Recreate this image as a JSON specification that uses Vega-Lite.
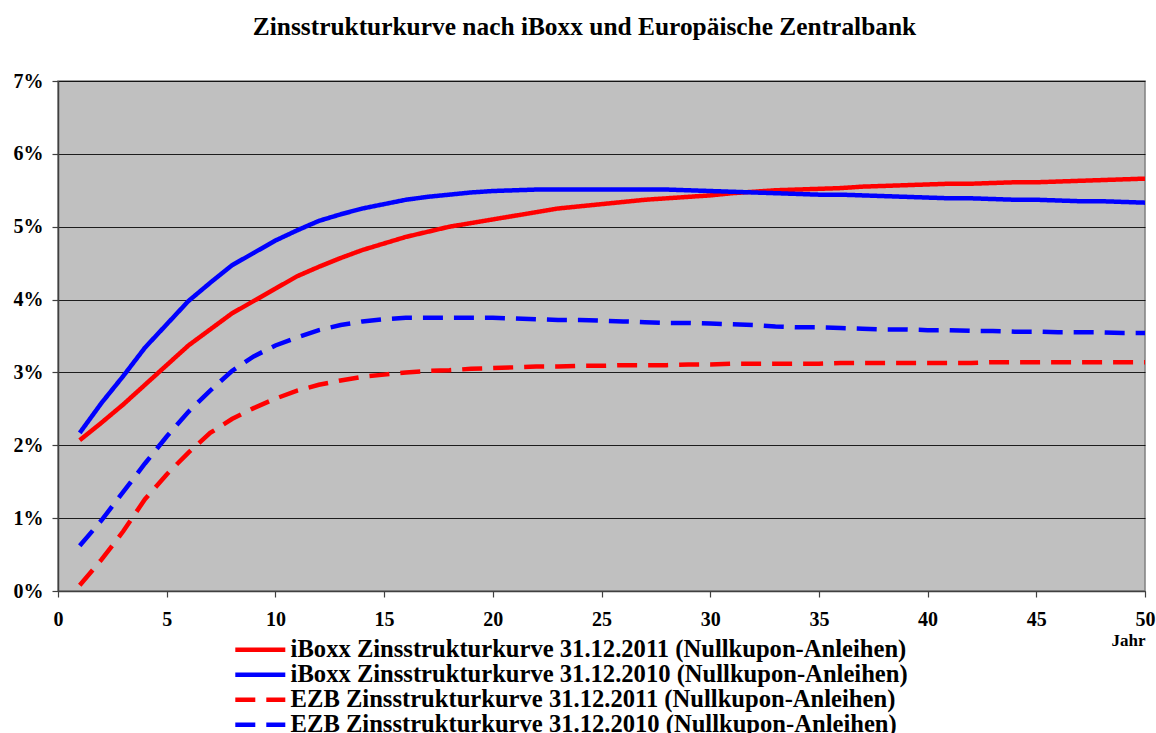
{
  "$schema": "https://vega.github.io/schema/vega-lite/v6.json",
  "width": 1087,
  "height": 510,
  "autosize": {"type": "none"},
  "padding": {"left": 58, "top": 81, "right": 11, "bottom": 142},
  "background": "white",
  "title": {
    "text": "Zinsstrukturkurve nach iBoxx und Europäische Zentralbank",
    "font": "Liberation Serif",
    "fontSize": 25.4,
    "fontWeight": "bold",
    "color": "black",
    "anchor": "middle",
    "dx": -17,
    "offset": 31
  },
  "config": {
    "view": {"fill": "#C0C0C0", "stroke": "#808080", "strokeWidth": 1.5},
    "axis": {
      "labelFont": "Liberation Serif",
      "labelFontWeight": "bold",
      "labelFontSize": 20,
      "labelColor": "black",
      "titleFont": "Liberation Serif",
      "titleFontWeight": "bold",
      "titleFontSize": 17,
      "titleColor": "black",
      "domainColor": "#404040",
      "domainWidth": 1.5,
      "tickColor": "#404040",
      "tickWidth": 1.2
    }
  },
  "data": {
    "values": [
      {"jahr": 1, "i2011": 2.07, "i2010": 2.17, "e2011": 0.08, "e2010": 0.62},
      {"jahr": 2, "i2011": 2.31, "i2010": 2.58, "e2011": 0.43, "e2010": 0.97},
      {"jahr": 3, "i2011": 2.56, "i2010": 2.95, "e2011": 0.82, "e2010": 1.36},
      {"jahr": 4, "i2011": 2.83, "i2010": 3.34, "e2011": 1.26, "e2010": 1.75},
      {"jahr": 5, "i2011": 3.10, "i2010": 3.66, "e2011": 1.60, "e2010": 2.12},
      {"jahr": 6, "i2011": 3.37, "i2010": 3.98, "e2011": 1.90, "e2010": 2.46},
      {"jahr": 7, "i2011": 3.59, "i2010": 4.23, "e2011": 2.17, "e2010": 2.75},
      {"jahr": 8, "i2011": 3.81, "i2010": 4.47, "e2011": 2.36, "e2010": 3.02},
      {"jahr": 9, "i2011": 3.98, "i2010": 4.64, "e2011": 2.51, "e2010": 3.22},
      {"jahr": 10, "i2011": 4.15, "i2010": 4.81, "e2011": 2.64, "e2010": 3.37},
      {"jahr": 11, "i2011": 4.32, "i2010": 4.95, "e2011": 2.75, "e2010": 3.48},
      {"jahr": 12, "i2011": 4.45, "i2010": 5.08, "e2011": 2.83, "e2010": 3.58},
      {"jahr": 13, "i2011": 4.57, "i2010": 5.17, "e2011": 2.89, "e2010": 3.65},
      {"jahr": 14, "i2011": 4.68, "i2010": 5.25, "e2011": 2.94, "e2010": 3.70},
      {"jahr": 15, "i2011": 4.77, "i2010": 5.31, "e2011": 2.97, "e2010": 3.73},
      {"jahr": 16, "i2011": 4.86, "i2010": 5.37, "e2011": 3.00, "e2010": 3.75},
      {"jahr": 17, "i2011": 4.93, "i2010": 5.41, "e2011": 3.02, "e2010": 3.75},
      {"jahr": 18, "i2011": 5.00, "i2010": 5.44, "e2011": 3.03, "e2010": 3.75},
      {"jahr": 19, "i2011": 5.05, "i2010": 5.47, "e2011": 3.05, "e2010": 3.75},
      {"jahr": 20, "i2011": 5.10, "i2010": 5.49, "e2011": 3.06, "e2010": 3.75},
      {"jahr": 21, "i2011": 5.15, "i2010": 5.50, "e2011": 3.07, "e2010": 3.74},
      {"jahr": 22, "i2011": 5.20, "i2010": 5.51, "e2011": 3.08, "e2010": 3.73},
      {"jahr": 23, "i2011": 5.25, "i2010": 5.51, "e2011": 3.08, "e2010": 3.72},
      {"jahr": 24, "i2011": 5.28, "i2010": 5.51, "e2011": 3.09, "e2010": 3.72},
      {"jahr": 25, "i2011": 5.31, "i2010": 5.51, "e2011": 3.09, "e2010": 3.71},
      {"jahr": 26, "i2011": 5.34, "i2010": 5.51, "e2011": 3.10, "e2010": 3.70},
      {"jahr": 27, "i2011": 5.37, "i2010": 5.51, "e2011": 3.10, "e2010": 3.69},
      {"jahr": 28, "i2011": 5.39, "i2010": 5.51, "e2011": 3.10, "e2010": 3.68},
      {"jahr": 29, "i2011": 5.41, "i2010": 5.50, "e2011": 3.11, "e2010": 3.68},
      {"jahr": 30, "i2011": 5.43, "i2010": 5.49, "e2011": 3.11, "e2010": 3.67},
      {"jahr": 31, "i2011": 5.46, "i2010": 5.48, "e2011": 3.12, "e2010": 3.66},
      {"jahr": 32, "i2011": 5.48, "i2010": 5.47, "e2011": 3.12, "e2010": 3.65},
      {"jahr": 33, "i2011": 5.50, "i2010": 5.46, "e2011": 3.12, "e2010": 3.63},
      {"jahr": 34, "i2011": 5.51, "i2010": 5.45, "e2011": 3.12, "e2010": 3.62},
      {"jahr": 35, "i2011": 5.52, "i2010": 5.44, "e2011": 3.12, "e2010": 3.62},
      {"jahr": 36, "i2011": 5.53, "i2010": 5.44, "e2011": 3.13, "e2010": 3.61},
      {"jahr": 37, "i2011": 5.55, "i2010": 5.43, "e2011": 3.13, "e2010": 3.60},
      {"jahr": 38, "i2011": 5.56, "i2010": 5.42, "e2011": 3.13, "e2010": 3.59},
      {"jahr": 39, "i2011": 5.57, "i2010": 5.41, "e2011": 3.13, "e2010": 3.59},
      {"jahr": 40, "i2011": 5.58, "i2010": 5.40, "e2011": 3.13, "e2010": 3.58},
      {"jahr": 41, "i2011": 5.59, "i2010": 5.39, "e2011": 3.13, "e2010": 3.58},
      {"jahr": 42, "i2011": 5.59, "i2010": 5.39, "e2011": 3.13, "e2010": 3.57},
      {"jahr": 43, "i2011": 5.60, "i2010": 5.38, "e2011": 3.14, "e2010": 3.57},
      {"jahr": 44, "i2011": 5.61, "i2010": 5.37, "e2011": 3.14, "e2010": 3.56},
      {"jahr": 45, "i2011": 5.61, "i2010": 5.37, "e2011": 3.14, "e2010": 3.56},
      {"jahr": 46, "i2011": 5.62, "i2010": 5.36, "e2011": 3.14, "e2010": 3.55},
      {"jahr": 47, "i2011": 5.63, "i2010": 5.35, "e2011": 3.14, "e2010": 3.55},
      {"jahr": 48, "i2011": 5.64, "i2010": 5.35, "e2011": 3.14, "e2010": 3.55},
      {"jahr": 49, "i2011": 5.65, "i2010": 5.34, "e2011": 3.14, "e2010": 3.54},
      {"jahr": 50, "i2011": 5.66, "i2010": 5.33, "e2011": 3.14, "e2010": 3.54}
    ]
  },
  "transform": [
    {"fold": ["i2011", "i2010", "e2011", "e2010"], "as": ["serie", "wert"]}
  ],
  "mark": {"type": "line", "clip": true},
  "encoding": {
    "x": {
      "field": "jahr",
      "type": "quantitative",
      "scale": {"domain": [0, 50], "nice": false, "zero": false},
      "axis": {
        "values": [0, 5, 10, 15, 20, 25, 30, 35, 40, 45, 50],
        "grid": false,
        "tickSize": 6,
        "labelPadding": 12,
        "labelFlush": false,
        "title": "Jahr",
        "titleAnchor": "end",
        "titleAlign": "right",
        "titleX": 1087,
        "titleY": 49,
        "titleBaseline": "middle"
      }
    },
    "y": {
      "field": "wert",
      "type": "quantitative",
      "scale": {"domain": [0, 7], "nice": false},
      "axis": {
        "values": [0, 1, 2, 3, 4, 5, 6, 7],
        "labelExpr": "datum.value + '%'",
        "grid": true,
        "gridColor": "#000000",
        "gridWidth": 1,
        "gridOpacity": 0.85,
        "tickSize": 6,
        "labelPadding": 9,
        "title": null
      }
    },
    "color": {
      "field": "serie",
      "type": "nominal",
      "scale": {
        "domain": ["i2011", "i2010", "e2011", "e2010"],
        "range": ["#FF0000", "#0000FF", "#FF0000", "#0000FF"]
      },
      "legend": {
        "title": null,
        "orient": "none",
        "legendX": 190,
        "legendY": 556.5,
        "symbolType": "M-5,0H5",
        "symbolSize": 100,
        "symbolStrokeWidth": 4,
        "symbolFillColor": "transparent",
        "labelFont": "Liberation Serif",
        "labelFontWeight": "bold",
        "labelFontSize": 24.6,
        "labelColor": "black",
        "labelOffset": 18,
        "rowPadding": 0,
        "labelLimit": 900,
        "labelExpr": "{'i2011': 'iBoxx Zinsstrukturkurve 31.12.2011 (Nullkupon-Anleihen)', 'i2010': 'iBoxx Zinsstrukturkurve 31.12.2010 (Nullkupon-Anleihen)', 'e2011': 'EZB Zinsstrukturkurve 31.12.2011 (Nullkupon-Anleihen)', 'e2010': 'EZB Zinsstrukturkurve 31.12.2010 (Nullkupon-Anleihen)'}[datum.value]"
      }
    },
    "strokeDash": {
      "field": "serie",
      "type": "nominal",
      "scale": {
        "domain": ["i2011", "i2010", "e2011", "e2010"],
        "range": [[1, 0], [1, 0], [20, 11], [20, 11]]
      }
    },
    "strokeWidth": {
      "field": "serie",
      "type": "nominal",
      "scale": {
        "domain": ["i2011", "i2010", "e2011", "e2010"],
        "range": [4.5, 4.5, 2.8, 2.8]
      },
      "legend": null
    }
  }
}
